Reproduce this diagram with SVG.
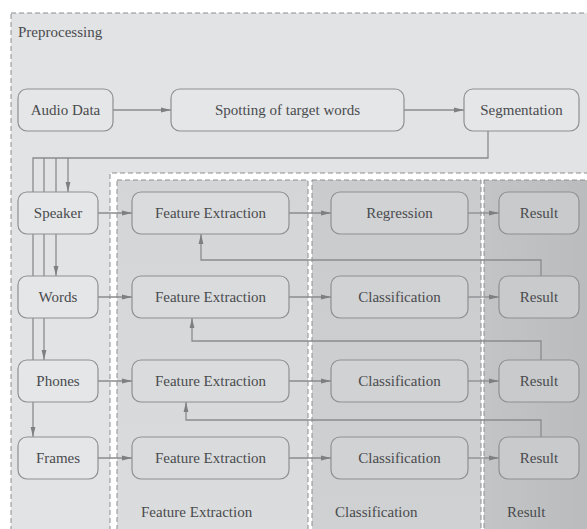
<svg xmlns="http://www.w3.org/2000/svg" width="587" height="529" viewBox="0 0 587 529">
<defs>
<marker id="ah" viewBox="0 0 10 6" refX="10" refY="3" markerWidth="10" markerHeight="6" markerUnits="userSpaceOnUse" orient="auto">
<path d="M0,0.6 L10,3 L0,5.4 Z" fill="#7d7f81"/>
</marker>
<linearGradient id="gFE" x1="0" y1="0" x2="0" y2="1"><stop offset="0" stop-color="#d3d5d7"/><stop offset="1" stop-color="#dadcdd"/></linearGradient>
<linearGradient id="gCL" x1="0" y1="0" x2="0" y2="1"><stop offset="0" stop-color="#c9cbcd"/><stop offset="1" stop-color="#cfd1d3"/></linearGradient>
<linearGradient id="gRS" x1="0" y1="0" x2="1" y2="0"><stop offset="0" stop-color="#c2c4c6"/><stop offset="1" stop-color="#b9bbbd"/></linearGradient>
</defs>
<style>
.region{stroke:#8c8e90;stroke-width:1;stroke-dasharray:5,3}
.box{stroke:#8e9092;stroke-width:1.2}
.pp{fill:#e4e6e8}
.fe{fill:#d9dbdd}
.cl{fill:#d0d2d4}
.rs{fill:#c8cacc}
.ln{fill:none;stroke:#8a8c8e;stroke-width:1.3}
</style>
<rect x="0" y="0" width="587" height="529" fill="#ffffff"/>
<g id="regions">
<path id="preprocessing-region" class="region" d="M11,13 H592 V173 H110 V535 H11 Z" fill="#e1e3e5"/>
<rect id="fe-region" class="region" x="117" y="180" width="191" height="360" fill="url(#gFE)"/>
<rect id="cl-region" class="region" x="312" y="180" width="169" height="360" fill="url(#gCL)"/>
<rect id="rs-region" class="region" x="484" y="180" width="110" height="360" fill="url(#gRS)"/>
<text style="font-family:'Liberation Serif',serif;font-size:15px" fill="#4a4b4d" x="18" y="37">Preprocessing</text>
<text style="font-family:'Liberation Serif',serif;font-size:15px" fill="#4a4b4d" x="141" y="517">Feature Extraction</text>
<text style="font-family:'Liberation Serif',serif;font-size:15px" fill="#4a4b4d" x="335" y="517">Classification</text>
<text style="font-family:'Liberation Serif',serif;font-size:15px" fill="#4a4b4d" x="507" y="517">Result</text>
</g>
<g id="connectors">
<line class="ln" x1="113" y1="110" x2="171" y2="110" marker-end="url(#ah)"/>
<line class="ln" x1="404" y1="110" x2="464" y2="110" marker-end="url(#ah)"/>
<path class="ln" d="M488,131 V158 H33 V437" marker-end="url(#ah)"/>
<path class="ln" d="M68,158 V192" marker-end="url(#ah)"/>
<path class="ln" d="M56,158 V276" marker-end="url(#ah)"/>
<path class="ln" d="M44,158 V360" marker-end="url(#ah)"/>
<line class="ln" x1="98" y1="213" x2="132" y2="213" marker-end="url(#ah)"/>
<line class="ln" x1="98" y1="297" x2="132" y2="297" marker-end="url(#ah)"/>
<line class="ln" x1="98" y1="381" x2="132" y2="381" marker-end="url(#ah)"/>
<line class="ln" x1="98" y1="458" x2="132" y2="458" marker-end="url(#ah)"/>
<line class="ln" x1="289" y1="213" x2="331" y2="213" marker-end="url(#ah)"/>
<line class="ln" x1="289" y1="297" x2="331" y2="297" marker-end="url(#ah)"/>
<line class="ln" x1="289" y1="381" x2="331" y2="381" marker-end="url(#ah)"/>
<line class="ln" x1="289" y1="458" x2="331" y2="458" marker-end="url(#ah)"/>
<line class="ln" x1="468" y1="213" x2="499" y2="213" marker-end="url(#ah)"/>
<line class="ln" x1="468" y1="297" x2="499" y2="297" marker-end="url(#ah)"/>
<line class="ln" x1="468" y1="381" x2="499" y2="381" marker-end="url(#ah)"/>
<line class="ln" x1="468" y1="458" x2="499" y2="458" marker-end="url(#ah)"/>
<path class="ln" d="M541,276 V260 H201 V234" marker-end="url(#ah)"/>
<path class="ln" d="M541,360 V341 H192 V318" marker-end="url(#ah)"/>
<path class="ln" d="M541,437 V420 H186 V402" marker-end="url(#ah)"/>
</g>
<g id="audio-data"><rect class="box pp" x="18" y="89" width="95" height="42" rx="9"/><text style="font-family:'Liberation Serif',serif;font-size:15px" fill="#4a4b4d" text-anchor="middle" x="65.5" y="115">Audio Data</text></g>
<g id="spotting"><rect class="box pp" x="171" y="89" width="233" height="42" rx="9"/><text style="font-family:'Liberation Serif',serif;font-size:15px" fill="#4a4b4d" text-anchor="middle" x="287.5" y="115">Spotting of target words</text></g>
<g id="segmentation"><rect class="box pp" x="464" y="89" width="115" height="42" rx="9"/><text style="font-family:'Liberation Serif',serif;font-size:15px" fill="#4a4b4d" text-anchor="middle" x="521.5" y="115">Segmentation</text></g>
<g id="speaker"><rect class="box pp" x="18" y="192" width="80" height="42" rx="9"/><text style="font-family:'Liberation Serif',serif;font-size:15px" fill="#4a4b4d" text-anchor="middle" x="58" y="218">Speaker</text></g>
<g id="words"><rect class="box pp" x="18" y="276" width="80" height="42" rx="9"/><text style="font-family:'Liberation Serif',serif;font-size:15px" fill="#4a4b4d" text-anchor="middle" x="58" y="302">Words</text></g>
<g id="phones"><rect class="box pp" x="18" y="360" width="80" height="42" rx="9"/><text style="font-family:'Liberation Serif',serif;font-size:15px" fill="#4a4b4d" text-anchor="middle" x="58" y="386">Phones</text></g>
<g id="frames"><rect class="box pp" x="18" y="437" width="80" height="42" rx="9"/><text style="font-family:'Liberation Serif',serif;font-size:15px" fill="#4a4b4d" text-anchor="middle" x="58" y="463">Frames</text></g>
<g id="fe1"><rect class="box fe" x="132" y="192" width="157" height="42" rx="9"/><text style="font-family:'Liberation Serif',serif;font-size:15px" fill="#4a4b4d" text-anchor="middle" x="210.5" y="218">Feature Extraction</text></g>
<g id="fe2"><rect class="box fe" x="132" y="276" width="157" height="42" rx="9"/><text style="font-family:'Liberation Serif',serif;font-size:15px" fill="#4a4b4d" text-anchor="middle" x="210.5" y="302">Feature Extraction</text></g>
<g id="fe3"><rect class="box fe" x="132" y="360" width="157" height="42" rx="9"/><text style="font-family:'Liberation Serif',serif;font-size:15px" fill="#4a4b4d" text-anchor="middle" x="210.5" y="386">Feature Extraction</text></g>
<g id="fe4"><rect class="box fe" x="132" y="437" width="157" height="42" rx="9"/><text style="font-family:'Liberation Serif',serif;font-size:15px" fill="#4a4b4d" text-anchor="middle" x="210.5" y="463">Feature Extraction</text></g>
<g id="regression"><rect class="box cl" x="331" y="192" width="137" height="42" rx="9"/><text style="font-family:'Liberation Serif',serif;font-size:15px" fill="#4a4b4d" text-anchor="middle" x="399.5" y="218">Regression</text></g>
<g id="class2"><rect class="box cl" x="331" y="276" width="137" height="42" rx="9"/><text style="font-family:'Liberation Serif',serif;font-size:15px" fill="#4a4b4d" text-anchor="middle" x="399.5" y="302">Classification</text></g>
<g id="class3"><rect class="box cl" x="331" y="360" width="137" height="42" rx="9"/><text style="font-family:'Liberation Serif',serif;font-size:15px" fill="#4a4b4d" text-anchor="middle" x="399.5" y="386">Classification</text></g>
<g id="class4"><rect class="box cl" x="331" y="437" width="137" height="42" rx="9"/><text style="font-family:'Liberation Serif',serif;font-size:15px" fill="#4a4b4d" text-anchor="middle" x="399.5" y="463">Classification</text></g>
<g id="result1"><rect class="box rs" x="499" y="192" width="80" height="42" rx="9"/><text style="font-family:'Liberation Serif',serif;font-size:15px" fill="#4a4b4d" text-anchor="middle" x="539" y="218">Result</text></g>
<g id="result2"><rect class="box rs" x="499" y="276" width="80" height="42" rx="9"/><text style="font-family:'Liberation Serif',serif;font-size:15px" fill="#4a4b4d" text-anchor="middle" x="539" y="302">Result</text></g>
<g id="result3"><rect class="box rs" x="499" y="360" width="80" height="42" rx="9"/><text style="font-family:'Liberation Serif',serif;font-size:15px" fill="#4a4b4d" text-anchor="middle" x="539" y="386">Result</text></g>
<g id="result4"><rect class="box rs" x="499" y="437" width="80" height="42" rx="9"/><text style="font-family:'Liberation Serif',serif;font-size:15px" fill="#4a4b4d" text-anchor="middle" x="539" y="463">Result</text></g>
</svg>
